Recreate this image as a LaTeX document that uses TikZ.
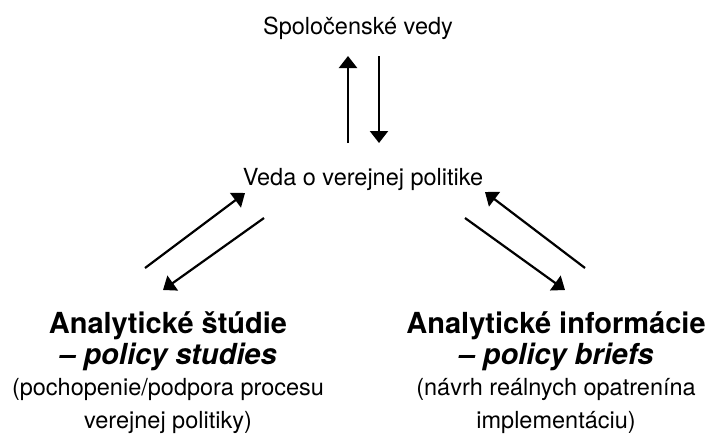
\documentclass[tikz,border=0pt]{standalone}
\usepackage{fontspec}
\setmainfont{TeX Gyre Heros}
\usetikzlibrary{arrows.meta,positioning}

\tikzset{
	pfeil/.style={line width=2.2pt,-{Triangle[length=12pt,width=18pt]}},
}

\begin{document}
\begin{tikzpicture}[x=1pt,y=-1pt]
	\useasboundingbox (0,0) rectangle (711,440);
	\begin{scope}[every node/.style={inner sep=0pt,anchor=base,align=center,font=\fontsize{23.5}{33}\selectfont}]
		\node (spol) at (358,34) {Spoločenské vedy};
		\node (veda) at (363,185) {Veda o verejnej politike};
		
		% base = posledny riadok
		\node (studie) at (168,428) {{\fontsize{29}{30}\selectfont\bfseries Analytické štúdie}\\[-2pt]
			{\fontsize{29}{30}\selectfont\bfseries\itshape – policy studies}\\[-2pt]
			(pochopenie/podpora procesu\\
			verejnej politiky)};
		\node (info) at (556,428) {{\fontsize{29}{30}\selectfont\bfseries Analytické informácie}\\[-2pt]
			{\fontsize{29}{30}\selectfont\bfseries\itshape – policy briefs}\\[-2pt]
			(návrh reálnych opatrenína\\
			implementáciu)};
	\end{scope}
	
	% konce sipok
	\coordinate (u1) at (348,143); \coordinate (u2) at (348,56);
	\coordinate (d1) at (379,56);  \coordinate (d2) at (379,143);
	\coordinate (l1) at (145,268); \coordinate (l2) at (245,193);
	\coordinate (l3) at (264,218); \coordinate (l4) at (163,290);
	\coordinate (r1) at (585,268); \coordinate (r2) at (485,192);
	\coordinate (r3) at (465,218); \coordinate (r4) at (565,290);
	
	\begin{scope}[every edge/.style={draw,pfeil}]
		\path (u1) edge (u2);
		\path (d1) edge (d2);
		
		\path (l1) edge (l2);
		\path (l3) edge (l4);
		
		\path (r1) edge (r2);
		\path (r3) edge (r4);
	\end{scope}
\end{tikzpicture}
\end{document}
